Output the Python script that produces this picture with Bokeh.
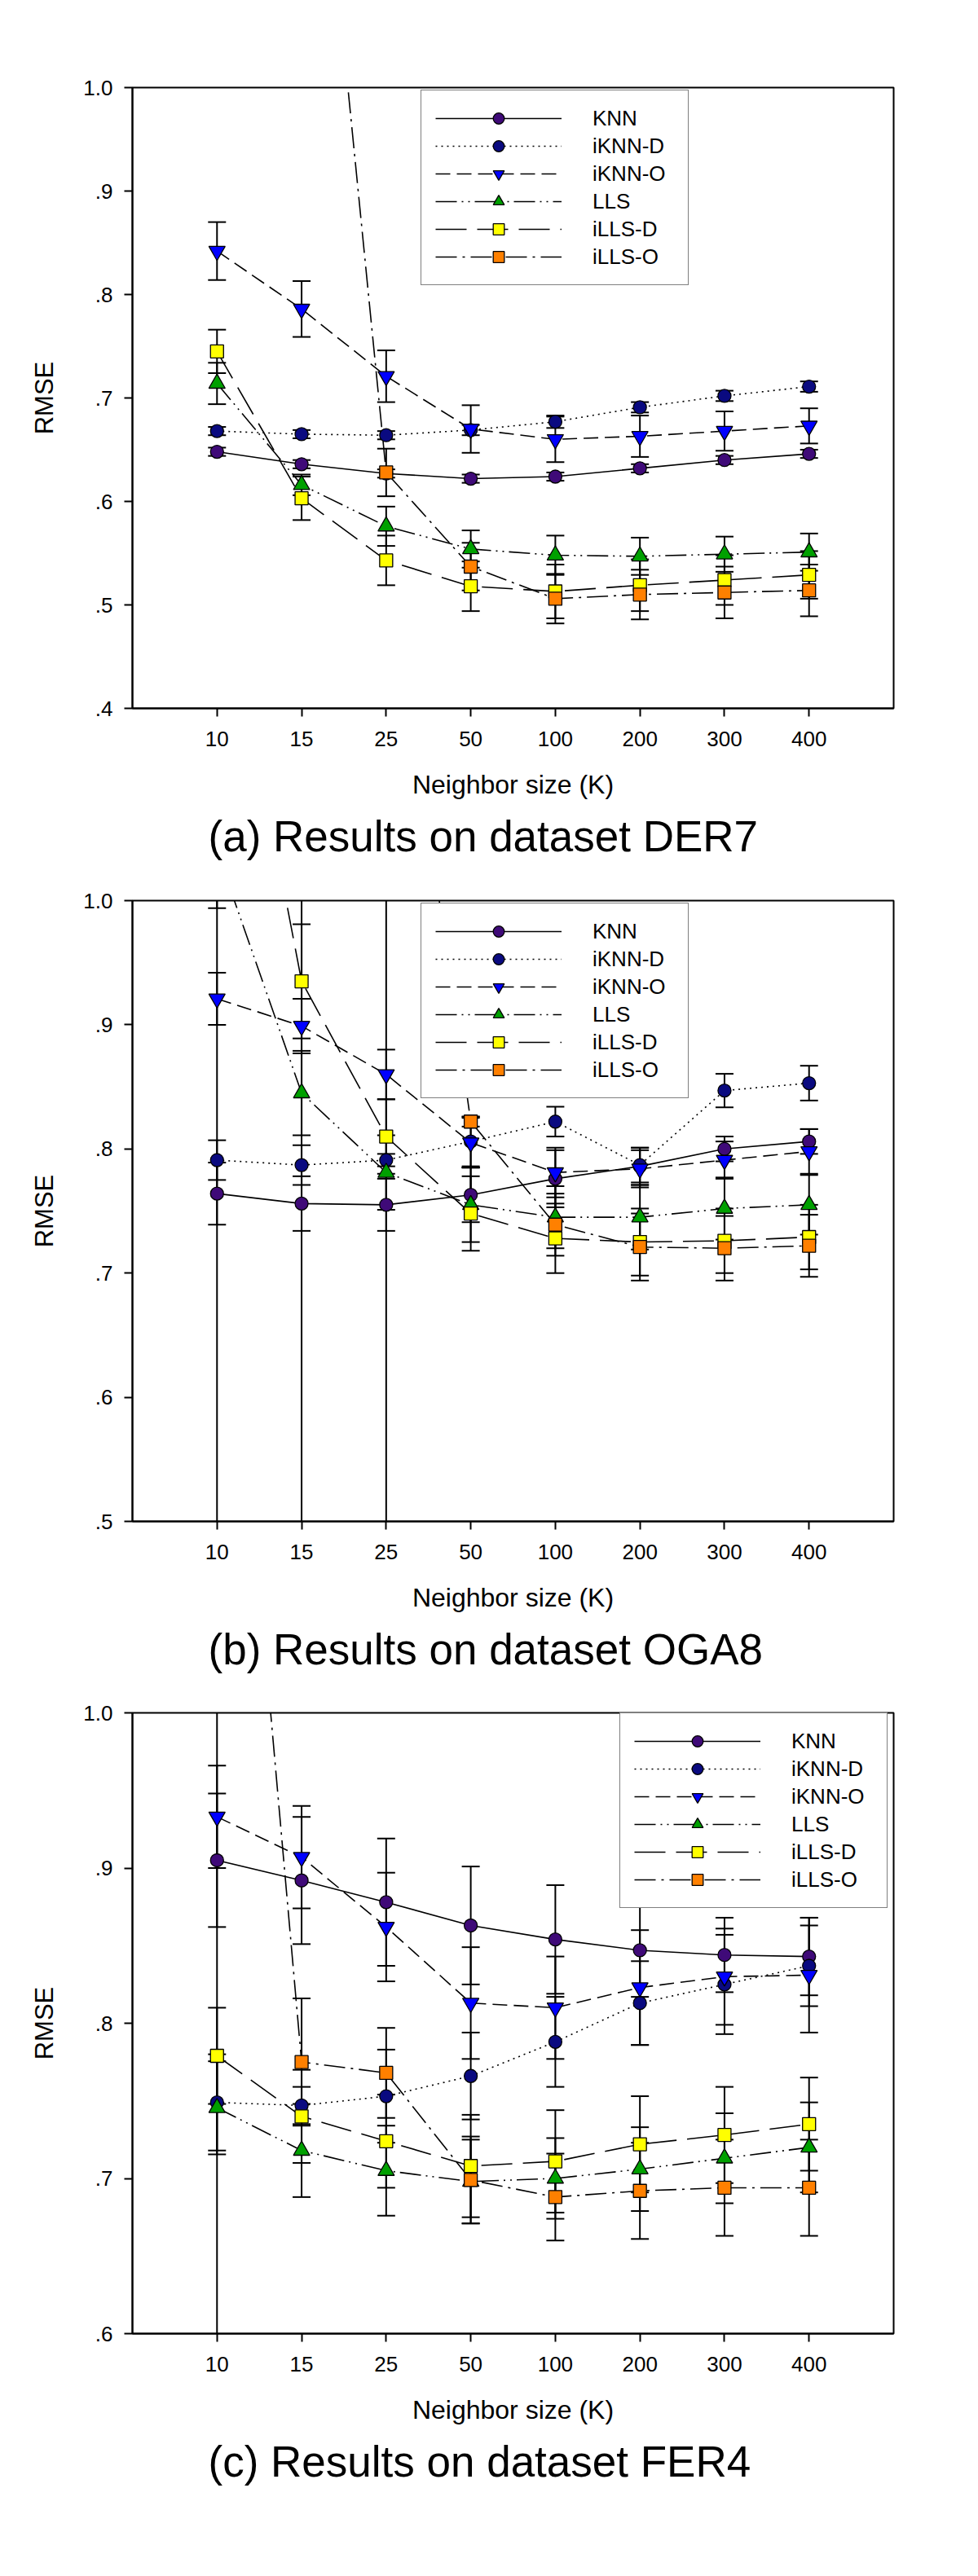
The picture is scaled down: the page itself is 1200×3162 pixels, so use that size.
from bokeh.plotting import figure
from bokeh.models import FactorRange, Range1d, FixedTicker, Legend, LegendItem, Title
from bokeh.layouts import column
from bokeh.embed import file_html
from bokeh.resources import INLINE

FONT = "Liberation Sans"

K_LABELS = ["10", "15", "25", "50", "100", "200", "300", "400"]
SERIES = ["KNN", "iKNN-D", "iKNN-O", "LLS", "iLLS-D", "iLLS-O"]

# ---- (a) DER7 ----
A_KNN = [0.648, 0.636, 0.627, 0.622, 0.624, 0.632, 0.640, 0.646]
A_IKNN_D = [0.668, 0.665, 0.664, 0.669, 0.677, 0.691, 0.702, 0.711]
A_IKNN_O = [0.842, 0.786, 0.721, 0.670, 0.660, 0.663, 0.668, 0.673]
A_LLS = [0.714, 0.616, 0.576, 0.554, 0.548, 0.547, 0.549, 0.551]
A_ILLS_D = [0.745, 0.603, 0.543, 0.518, 0.513, 0.519, 0.524, 0.529]
A_ILLS_O = [1.900, 1.450, 0.628, 0.537, 0.506, 0.510, 0.512, 0.514]
A_KNN_E = [0.004, 0.004, 0.004, 0.004, 0.004, 0.004, 0.004, 0.004]
A_IKNN_D_E = [0.004, 0.004, 0.004, 0.005, 0.006, 0.005, 0.005, 0.005]
A_IKNN_O_E = [0.028, 0.027, 0.025, 0.023, 0.022, 0.020, 0.019, 0.017]
A_LLS_E = [0.020, 0.010, 0.019, 0.018, 0.019, 0.018, 0.017, 0.018]
A_ILLS_D_E = [0.021, 0.021, 0.024, 0.024, 0.026, 0.025, 0.024, 0.023]
A_ILLS_O_E = [0.050, 0.050, 0.023, 0.023, 0.024, 0.024, 0.025, 0.025]

# ---- (b) OGA8 ----
B_KNN = [0.764, 0.756, 0.755, 0.763, 0.776, 0.786, 0.800, 0.806]
B_IKNN_D = [0.791, 0.787, 0.791, 0.806, 0.822, 0.787, 0.847, 0.853]
B_IKNN_O = [0.921, 0.899, 0.860, 0.805, 0.781, 0.784, 0.791, 0.798]
B_LLS = [1.040, 0.845, 0.781, 0.755, 0.745, 0.745, 0.752, 0.755]
B_ILLS_D = [1.290, 0.935, 0.810, 0.748, 0.728, 0.725, 0.726, 0.729]
B_ILLS_O = [1.900, 1.600, 1.300, 0.822, 0.739, 0.721, 0.720, 0.722]
B_KNN_E = [0.025, 0.022, 0.021, 0.022, 0.023, 0.015, 0.010, 0.010]
B_IKNN_D_E = [0.016, 0.016, 0.005, 0.020, 0.012, 0.014, 0.0135, 0.014]
B_IKNN_O_E = [0.021, 0.022, 0.020, 0.020, 0.020, 0.015, 0.015, 0.018]
B_LLS_E = [0.046, 0.034, 0.030, 0.030, 0.025, 0.026, 0.025, 0.024]
B_ILLS_D_E = [0.050, 0.046, 0.030, 0.030, 0.028, 0.027, 0.026, 0.026]
B_ILLS_O_E = [1.500, 1.200, 0.900, 0.004, 0.025, 0.027, 0.026, 0.025]

# ---- (c) FER4 ----
C_KNN = [0.905, 0.892, 0.878, 0.863, 0.854, 0.847, 0.844, 0.843]
C_IKNN_D = [0.749, 0.747, 0.753, 0.766, 0.788, 0.813, 0.825, 0.837]
C_IKNN_O = [0.933, 0.907, 0.862, 0.813, 0.810, 0.823, 0.830, 0.831]
C_LLS = [0.7455, 0.718, 0.705, 0.698, 0.700, 0.706, 0.713, 0.720]
C_ILLS_D = [0.779, 0.740, 0.724, 0.708, 0.711, 0.722, 0.728, 0.735]
C_ILLS_O = [1.390, 0.775, 0.768, 0.699, 0.688, 0.692, 0.694, 0.694]
C_KNN_E = [0.043, 0.041, 0.041, 0.038, 0.035, 0.030, 0.024, 0.025]
C_IKNN_D_E = [0.031, 0.012, 0.030, 0.028, 0.029, 0.027, 0.032, 0.026]
C_IKNN_O_E = [0.033, 0.033, 0.035, 0.036, 0.033, 0.037, 0.031, 0.037]
C_LLS_E = [0.030, 0.030, 0.029, 0.027, 0.026, 0.027, 0.029, 0.029]
C_ILLS_D_E = [0.031, 0.030, 0.030, 0.033, 0.033, 0.031, 0.031, 0.030]
C_ILLS_O_E = [0.850, 0.041, 0.029, 0.028, 0.028, 0.031, 0.031, 0.031]

A_TICKS = [0.4, 0.5, 0.6, 0.7, 0.8, 0.9, 1.0]
A_TICK_LABELS = [".4", ".5", ".6", ".7", ".8", ".9", "1.0"]
B_TICKS = [0.5, 0.6, 0.7, 0.8, 0.9, 1.0]
B_TICK_LABELS = [".5", ".6", ".7", ".8", ".9", "1.0"]
C_TICKS = [0.6, 0.7, 0.8, 0.9, 1.0]
C_TICK_LABELS = [".6", ".7", ".8", ".9", "1.0"]

CAPTIONS = ["(a) Results on dataset DER7",
            "(b) Results on dataset OGA8",
            "(c) Results on dataset FER4"]

STYLE = {
    "KNN":    dict(dash="solid",          marker="circle",            fill="#3F0A78", size=16),
    "iKNN-D": dict(dash="2 5",            marker="circle",            fill="#0A0A80", size=16),
    "iKNN-O": dict(dash="18 8",           marker="inverted_triangle", fill="#0000FF", size=20),
    "LLS":    dict(dash="26 6 2 6 2 6",   marker="triangle",          fill="#00A000", size=20),
    "iLLS-D": dict(dash="38 13",          marker="square",            fill="#FFFF00", size=16),
    "iLLS-O": dict(dash="26 7 3 7",       marker="square",            fill="#FF8000", size=16),
}


def make_panel(caption, means, errs, ticks, tick_labels, legend_loc, top_border, height):
    p = figure(width=1156, height=height,
               x_range=FactorRange(factors=K_LABELS, range_padding=0.125),
               y_range=Range1d(ticks[0], ticks[-1]),
               output_backend="svg", toolbar_location=None, title=None,
               min_border_left=162, min_border_right=60,
               min_border_top=top_border, min_border_bottom=200)
    p.background_fill_color = "white"
    p.border_fill_color = "white"
    p.outline_line_color = "black"
    p.outline_line_width = 2
    p.xgrid.visible = False
    p.ygrid.visible = False

    line_rs, mark_rs = [], []
    for name in SERIES:
        st = STYLE[name]
        line_rs.append(p.line(x=K_LABELS, y=means[name], line_color="black",
                              line_width=1.6, line_dash=st["dash"]))
    for name in SERIES:
        upper = [m + e for m, e in zip(means[name], errs[name])]
        lower = [m - e for m, e in zip(means[name], errs[name])]
        p.segment(x0=K_LABELS, y0=lower, x1=K_LABELS, y1=upper,
                  line_color="black", line_width=2)
        p.scatter(x=K_LABELS, y=upper, marker="dash", size=22,
                  line_color="black", line_width=2)
        p.scatter(x=K_LABELS, y=lower, marker="dash", size=22,
                  line_color="black", line_width=2)
    for name in SERIES:
        st = STYLE[name]
        mark_rs.append(p.scatter(x=K_LABELS, y=means[name], marker=st["marker"],
                                 size=st["size"], fill_color=st["fill"],
                                 line_color="black", line_width=1.3))

    items = [LegendItem(label=n, renderers=[l, m]) for n, l, m in zip(SERIES, line_rs, mark_rs)]
    legend = Legend(items=items, location=legend_loc,
                    glyph_width=155, glyph_height=34, label_height=34, label_width=100,
                    label_standoff=38, spacing=0, padding=17, margin=0,
                    label_text_font=FONT, label_text_font_size="26px",
                    label_text_color="black",
                    border_line_color="black", border_line_width=1.5,
                    background_fill_color="white", background_fill_alpha=1.0)
    p.add_layout(legend)

    xa = p.xaxis[0]
    ya = p.yaxis[0]
    for ax in (xa, ya):
        ax.axis_line_width = 2
        ax.axis_line_color = "black"
        ax.major_tick_line_width = 2
        ax.major_tick_line_color = "black"
        ax.major_tick_out = 10
        ax.major_tick_in = 0
        ax.minor_tick_line_color = None
        ax.major_label_text_font = FONT
        ax.major_label_text_font_size = "26px"
        ax.major_label_text_color = "black"
        ax.axis_label_text_font = FONT
        ax.axis_label_text_font_style = "normal"
        ax.axis_label_text_color = "black"

    xa.axis_label = "Neighbor size (K)"
    xa.axis_label_text_font_size = "32px"
    xa.axis_label_standoff = 26
    xa.major_label_standoff = 18

    ya.ticker = FixedTicker(ticks=ticks)
    ya.major_label_overrides = dict(zip(ticks, tick_labels))
    ya.axis_label = "RMSE"
    ya.axis_label_text_font_size = "31px"
    ya.axis_label_standoff = 27
    ya.major_label_standoff = 14

    p.add_layout(Title(text=caption, align="left", offset=93,
                       text_font=FONT, text_font_size="53px",
                       text_font_style="normal", text_color="black",
                       standoff=22), "below")
    return p


A_MEANS = dict(zip(SERIES, [A_KNN, A_IKNN_D, A_IKNN_O, A_LLS, A_ILLS_D, A_ILLS_O]))
A_ERRS = dict(zip(SERIES, [A_KNN_E, A_IKNN_D_E, A_IKNN_O_E, A_LLS_E, A_ILLS_D_E, A_ILLS_O_E]))
B_MEANS = dict(zip(SERIES, [B_KNN, B_IKNN_D, B_IKNN_O, B_LLS, B_ILLS_D, B_ILLS_O]))
B_ERRS = dict(zip(SERIES, [B_KNN_E, B_IKNN_D_E, B_IKNN_O_E, B_LLS_E, B_ILLS_D_E, B_ILLS_O_E]))
C_MEANS = dict(zip(SERIES, [C_KNN, C_IKNN_D, C_IKNN_O, C_LLS, C_ILLS_D, C_ILLS_O]))
C_ERRS = dict(zip(SERIES, [C_KNN_E, C_IKNN_D_E, C_IKNN_O_E, C_LLS_E, C_ILLS_D_E, C_ILLS_O_E]))

pa = make_panel(CAPTIONS[0], A_MEANS, A_ERRS, A_TICKS, A_TICK_LABELS, (354, 519), 107, 1069)
pb = make_panel(CAPTIONS[1], B_MEANS, B_ERRS, B_TICKS, B_TICK_LABELS, (354, 519), 36, 998)
pc = make_panel(CAPTIONS[2], C_MEANS, C_ERRS, C_TICKS, C_TICK_LABELS, (598, 522), 35, 997)

layout = column(pa, pb, pc, spacing=0)
open("out.html", "w").write(file_html(layout, INLINE))
